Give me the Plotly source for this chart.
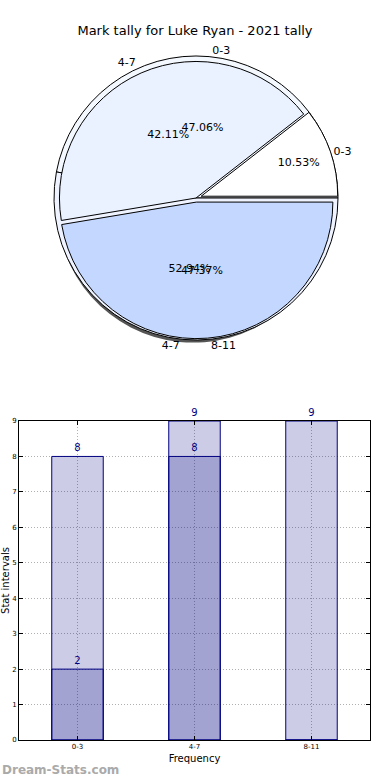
import plotly.graph_objects as go

title = "Mark tally for Luke Ryan - 2021 tally"
categories = ["0-3", "4-7", "8-11"]
series_a = [2, 8, 9]      # first tally (19 marks)
series_b = [8, 9, 0]      # second tally (17 marks)
pie_a_colors = ["#ffffff", "#eaf2ff", "#c4d8ff"]
pie_b_colors = ["#f4f8ff", "#eef3ff", "#c4d8ff"]
bar_labels_a = [str(v) for v in series_a]
bar_labels_b = [str(v) if v else "" for v in series_b]

W, H = 390, 780
def px_x(a, b):
    return [a / W, b / W]
def px_y(top, bottom):
    return [1 - bottom / H, 1 - top / H]

cx, cy, r = 196, 198, 142
pull_a = [0.04, 0, 0.03]
pie_dom_x = px_x(cx - r, cx + r)
pie_dom_y = px_y(cy - r, cy + r)
shadow_dom_x = px_x(cx - r - 3, cx + r - 3)
shadow_dom_y = px_y(cy - r + 4, cy + r + 4)

b_cats = categories[:2]
b_vals = series_b[:2]

# plotly's counterclockwise pies put the first slice clockwise of `rotation`;
# shift so the first slice starts at 3 o'clock and runs counterclockwise
rot_a = 90 - 360 * series_a[0] / sum(series_a)
rot_b = 90 - 360 * b_vals[0] / sum(b_vals)

fig = go.Figure()
common = dict(sort=False, direction="counterclockwise", showlegend=False, hoverinfo="skip")
tf = dict(family="DejaVu Sans", size=11, color="black")
# shadow
fig.add_trace(go.Pie(labels=categories, values=series_a, domain=dict(x=shadow_dom_x, y=shadow_dom_y),
                     marker=dict(colors=["#555555"] * 3, line=dict(width=0)), textinfo="none",
                     pull=pull_a, rotation=rot_a, **common))
# second series underneath
fig.add_trace(go.Pie(labels=b_cats, values=b_vals, domain=dict(x=pie_dom_x, y=pie_dom_y),
                     marker=dict(colors=pie_b_colors[:2], line=dict(color="black", width=1)),
                     textinfo="none", rotation=rot_b, **common))
# first series on top
fig.add_trace(go.Pie(labels=categories, values=series_a, domain=dict(x=pie_dom_x, y=pie_dom_y),
                     marker=dict(colors=pie_a_colors, line=dict(color="black", width=1)),
                     pull=pull_a, rotation=rot_a,
                     texttemplate="%{percent:.2%}", textposition="inside", insidetextorientation="horizontal",
                     textfont=tf, **common))
# second series percentages on top
fig.add_trace(go.Pie(labels=b_cats, values=b_vals, domain=dict(x=pie_dom_x, y=pie_dom_y),
                     marker=dict(colors=["rgba(0,0,0,0)"] * 2, line=dict(width=0)), rotation=rot_b,
                     texttemplate="%{percent:.2%}", textposition="inside", insidetextorientation="horizontal",
                     textfont=tf, **common))
# outside category labels
for labs, vals, rot in [(categories, series_a, rot_a), (b_cats, b_vals, rot_b)]:
    fig.add_trace(go.Pie(labels=labs, values=vals, domain=dict(x=pie_dom_x, y=pie_dom_y),
                         marker=dict(colors=["rgba(0,0,0,0)"] * len(labs), line=dict(width=0)),
                         texttemplate="%{label}", textposition="outside", rotation=rot,
                         textfont=tf, **common))

bar_color = "rgba(0,0,128,0.2)"
for vals, labs in [(series_b, bar_labels_b), (series_a, bar_labels_a)]:
    fig.add_trace(go.Bar(x=categories, y=vals, text=labs, textposition="outside", cliponaxis=False,
                         textfont=dict(family="DejaVu Sans", size=10, color="#000080"),
                         marker=dict(color=bar_color, line=dict(color="#000080", width=1)),
                         width=0.44, showlegend=False, hoverinfo="skip"))

fig.update_layout(
    width=W, height=H, margin=dict(l=0, r=0, t=0, b=0, autoexpand=False),
    paper_bgcolor="white", plot_bgcolor="white", barmode="overlay",
    font=dict(family="DejaVu Sans", color="black"),
    title=dict(text=title, x=0.5, xanchor="center", y=1 - 30 / H, yanchor="middle",
               font=dict(family="DejaVu Sans", size=13, color="black")),
    xaxis=dict(domain=px_x(19, 370), showline=True, linecolor="black", linewidth=1, mirror="allticks",
               ticks="inside", ticklen=4, tickcolor="black", showgrid=True, gridcolor="#b0b0b0",
               griddash="1px,2px", gridwidth=1, tickfont=dict(size=7), automargin=False,
               title=dict(text="Frequency", font=dict(size=10), standoff=4),
               range=[-0.5, 2.5]),
    yaxis=dict(domain=px_y(421, 740), range=[0, 9], dtick=1, showline=True, linecolor="black", linewidth=1,
               mirror="allticks", ticks="inside", ticklen=4, tickcolor="black", showgrid=True, gridcolor="#b0b0b0",
               griddash="1px,2px", gridwidth=1, tickfont=dict(size=7), zeroline=False, automargin=False,
               title=dict(text="Stat intervals", font=dict(size=10), standoff=2)),
    annotations=[dict(text="<b>Dream-Stats.com</b>", x=0, y=1 - 770 / H, xref="paper", yref="paper",
                      xanchor="left", yanchor="middle", showarrow=False,
                      font=dict(family="DejaVu Sans", size=12, color="#aaaaaa"))],
)

fig.write_html("out.html", config={"displayModeBar": False},
               post_script="document.body.style.margin='0';")
